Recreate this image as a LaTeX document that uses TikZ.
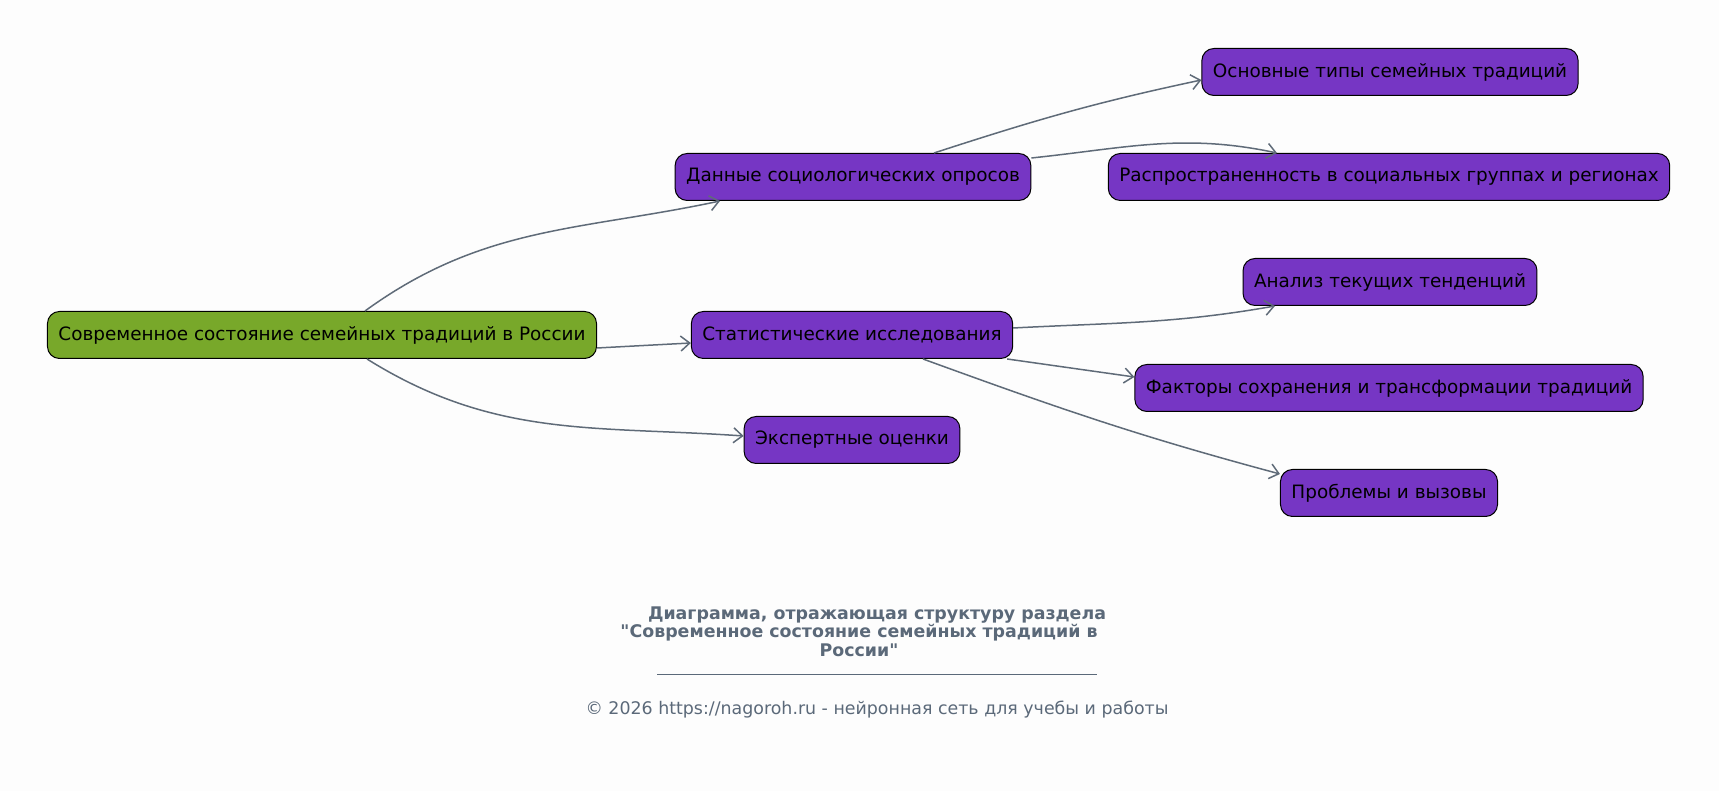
\documentclass[tikz,border=0pt]{standalone}
\usepackage{fontspec}
\setmainfont{DejaVu Sans}[Ligatures=TeXOff]
\usetikzlibrary{arrows.meta}

\definecolor{bgcol}{HTML}{FDFDFD}
\definecolor{rootgreen}{HTML}{78A82A}
\definecolor{leafpurple}{HTML}{7636C4}
\definecolor{linkgray}{HTML}{5F6B78}
\definecolor{capgray}{HTML}{5B6979}

\begin{document}
\begin{tikzpicture}[x=1pt,y=1pt,
    every node/.style={rectangle,rounded corners=12pt,draw=black,line width=1pt,fill=leafpurple,
        minimum height=47pt,inner xsep=11pt,font=\fontsize{18.4}{20}\selectfont},
    caption/.style={draw=none,fill=none,minimum height=0pt,inner sep=0pt,text=capgray,
        font=\fontsize{17.4}{19}\selectfont},
    link/.style={->,draw=linkgray,line width=1.5pt},
    >={Straight Barb[length=9pt,width=15pt]}]
    \fill[bgcol] (0,0) rectangle (1719,791);
    \useasboundingbox (0,0) rectangle (1719,791);

    \node[fill=rootgreen] (CSS) at (322,456) {Современное состояние семейных традиций в России};
    \node (DSO) at (853,614) {Данные социологических опросов};
    \node (SI) at (852,456) {Статистические исследования};
    \node (EO) at (852,351) {Экспертные оценки};
    \node (OTST) at (1390,719) {Основные типы семейных традиций};
    \node (RSGR) at (1389,614) {Распространенность в социальных группах и регионах};
    \node (ATT) at (1390,509) {Анализ текущих тенденций};
    \node (FSTT) at (1389,403) {Факторы сохранения и трансформации традиций};
    \node (PV) at (1389,298) {Проблемы и вызовы};

    \draw[link] ([xshift=43pt]CSS.north) to[out=36,in=192] ([xshift=-133pt]DSO.south);
    \draw[link] ([yshift=-13pt]CSS.east) -- ([yshift=-8pt]SI.west);
    \draw[link] ([xshift=45pt]CSS.south) to[out=-32,in=176] ([yshift=4pt]EO.west);
    \draw[link] ([xshift=81pt]DSO.north) to[out=18,in=192] ([yshift=-8pt]OTST.west);
    \draw[link] ([yshift=19pt]DSO.east) to[out=6,in=168] ([xshift=-112pt]RSGR.north);
    \draw[link] ([yshift=7pt]SI.east) to[out=3,in=190] ([xshift=-115pt]ATT.south);
    \draw[link] ([xshift=-6pt]SI.south east) -- ([yshift=11pt]FSTT.west);
    \draw[link] ([xshift=71pt]SI.south) to[out=-20,in=165] ([yshift=-5pt]PV.north west);

    \node[caption,font=\bfseries\fontsize{17.4}{19}\selectfont] (T1) at (877,176) {Диаграмма, отражающая структуру раздела};
    \node[caption,font=\bfseries\fontsize{17.4}{19}\selectfont] (T2) at (859,158) {"Современное состояние семейных традиций в};
    \node[caption,font=\bfseries\fontsize{17.4}{19}\selectfont] (T3) at (859,141) {России"};
    \coordinate (RL) at (657,117);
    \coordinate (RR) at (1097,117);
    \draw[capgray,line width=0.8pt] (RL) -- (RR);
    \node[caption] (CR) at (877,81) {© 2026 https://nagoroh.ru - нейронная сеть для учебы и работы};
\end{tikzpicture}
\end{document}
